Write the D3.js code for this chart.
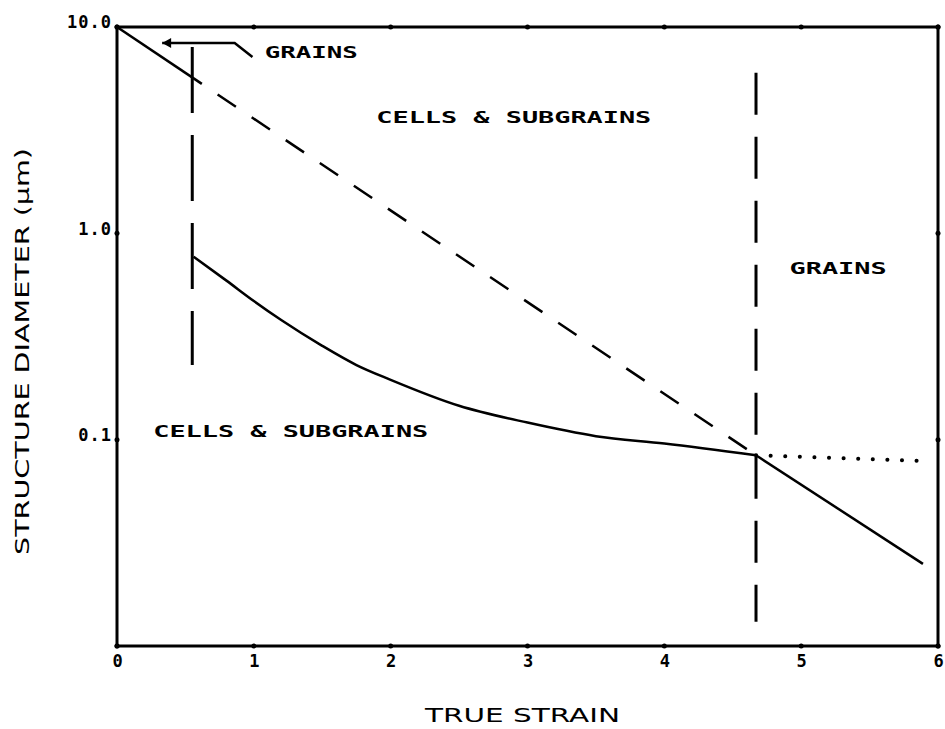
<!DOCTYPE html>
<html>
<head>
<meta charset="utf-8">
<script src="https://cdn.jsdelivr.net/npm/d3@7"></script>
<style>
  html, body { margin: 0; padding: 0; background: #fff; }
  svg { display: block; }
</style>
</head>
<body>
<svg id="chart" width="945" height="729"></svg>
<script>
// ---- data ----
const xTicks = [0, 1, 2, 3, 4, 5, 6];
const yTicks = [0.1, 1, 10];
const yTickLabels = ["0.1", "1.0", "10.0"];

// grain size line at low strain (solid)
const grainStrain = [0, 0.62];
const grainDiam = [10, 5.3];
// extrapolated grain-size line through cell region (dashed)
const extStrain = [0.62, 4.67];
const extDiam = [5.3, 0.084];
// cell / subgrain size curve (solid)
const cellStrain = [0.56, 0.8, 1.0, 1.2, 1.5, 1.75, 2.0, 2.5, 3.0, 3.5, 4.0, 4.67];
const cellDiam = [0.77, 0.59, 0.47, 0.38, 0.285, 0.23, 0.195, 0.146, 0.121, 0.104, 0.0957, 0.084];
// high-strain grain line (solid)
const highStrain = [4.67, 5.89];
const highDiam = [0.084, 0.025];
// cell plateau continuation (dotted)
const dotStrain = [4.67, 5.85];
const dotDiam = [0.084, 0.079];
// regime boundaries (dashed verticals)
const boundaryStrain = [0.55, 4.67];
const boundaryTop = [8.0, 6.0];
const boundaryBottom = [0.23, 0.0131];

// region labels
const labelText = ["GRAINS", "CELLS & SUBGRAINS", "CELLS & SUBGRAINS", "GRAINS"];
const labelStrain = [1.42, 2.90, 1.27, 5.27];
const labelDiam = [7.56, 3.66, 0.1096, 0.676];
const labelWidth = [93, 275, 275, 97];

// arrow annotation (strain, diameter)
const arrowStrain = [0.33, 0.86, 0.99];
const arrowDiam = [8.36, 8.36, 7.15];

// ---- layout ----
const svg = d3.select("#chart");
const x = d3.scaleLinear().domain([0, 6]).range([117, 938]);
const y = d3.scaleLog().domain([0.01, 10]).range([646, 27]);

const plotFont = "'DejaVu Sans Mono', 'Liberation Mono', monospace";
const titleFont = "'DejaVu Sans', 'Liberation Sans', sans-serif";

const line = d3.line().x(d => x(d[0])).y(d => y(d[1]));
const zip = (a, b) => a.map((v, i) => [v, b[i]]);

// frame
svg.append("rect")
  .attr("x", x(0)).attr("y", y(10))
  .attr("width", x(6) - x(0)).attr("height", y(0.01) - y(10))
  .attr("fill", "none").attr("stroke", "#000").attr("stroke-width", 3);

// tick dots on all four sides
const dotG = svg.append("g").attr("fill", "#000");
xTicks.forEach(t => {
  dotG.append("circle").attr("cx", x(t)).attr("cy", y(0.01)).attr("r", 2.5);
  dotG.append("circle").attr("cx", x(t)).attr("cy", y(10)).attr("r", 2.5);
});
[0.01, 0.1, 1, 10].forEach(t => {
  dotG.append("circle").attr("cx", x(0)).attr("cy", y(t)).attr("r", 2.5);
  dotG.append("circle").attr("cx", x(6)).attr("cy", y(t)).attr("r", 2.5);
});

// axes (labels only)
const xAxis = svg.append("g")
  .attr("transform", `translate(0,${y(0.01)})`)
  .call(d3.axisBottom(x).tickValues(xTicks).tickFormat(d3.format("d")).tickSize(0).tickPadding(9));
const yAxis = svg.append("g")
  .attr("transform", `translate(${x(0)},0)`)
  .call(d3.axisLeft(y).tickValues(yTicks).tickFormat((d, i) => yTickLabels[i]).tickSize(0).tickPadding(5));
[xAxis, yAxis].forEach(g => {
  g.select(".domain").remove();
  g.selectAll("text")
    .attr("font-family", plotFont).attr("font-weight", "bold")
    .attr("font-size", 17).attr("fill", "#000");
});
yAxis.selectAll("text").attr("dy", "0.05em").attr("letter-spacing", 1);

// curves
svg.append("path").datum(zip(grainStrain, grainDiam)).attr("d", line)
  .attr("fill", "none").attr("stroke", "#000").attr("stroke-width", 2.5);
svg.append("path").datum(zip(extStrain, extDiam)).attr("d", line)
  .attr("fill", "none").attr("stroke", "#000").attr("stroke-width", 2.5)
  .attr("stroke-dasharray", "22,19").attr("stroke-dashoffset", -19);
svg.append("path").datum(zip(cellStrain, cellDiam))
  .attr("d", d3.line().x(d => x(d[0])).y(d => y(d[1])).curve(d3.curveMonotoneX))
  .attr("fill", "none").attr("stroke", "#000").attr("stroke-width", 2.5);
svg.append("path").datum(zip(highStrain, highDiam)).attr("d", line)
  .attr("fill", "none").attr("stroke", "#000").attr("stroke-width", 2.5);
svg.append("path").datum(zip(dotStrain, dotDiam)).attr("d", line)
  .attr("fill", "none").attr("stroke", "#000").attr("stroke-width", 4)
  .attr("stroke-linecap", "round").attr("stroke-dasharray", "0.1,14.5");

// dashed vertical boundaries
const dashPatterns = ["66,22", "42,22"];
boundaryStrain.forEach((s, i) => {
  svg.append("line")
    .attr("x1", x(s)).attr("x2", x(s))
    .attr("y1", y(boundaryTop[i])).attr("y2", y(boundaryBottom[i]))
    .attr("stroke", "#000").attr("stroke-width", 3)
    .attr("stroke-dasharray", dashPatterns[i]);
});

// arrow annotation
svg.append("path").datum(zip(arrowStrain, arrowDiam)).attr("d", line)
  .attr("fill", "none").attr("stroke", "#000").attr("stroke-width", 2.5);
const tipX = x(arrowStrain[0]), tipY = y(arrowDiam[0]);
svg.append("path")
  .attr("d", `M${tipX},${tipY} l9,-5 l0,10 z`)
  .attr("fill", "#000");

// region labels
labelText.forEach((t, i) => {
  svg.append("text")
    .attr("x", x(labelStrain[i]) - labelWidth[i] / 2)
    .attr("y", y(labelDiam[i]))
    .attr("dy", "0.36em")
    .attr("textLength", labelWidth[i]).attr("lengthAdjust", "spacingAndGlyphs")
    .attr("font-family", plotFont).attr("font-weight", "bold")
    .attr("font-size", 16).attr("fill", "#000")
    .text(t);
});

// axis titles
svg.append("text")
  .attr("x", 425).attr("y", 722)
  .attr("textLength", 195).attr("lengthAdjust", "spacingAndGlyphs")
  .attr("font-family", titleFont).attr("font-size", 20).attr("fill", "#000")
  .text("TRUE STRAIN");
svg.append("text")
  .attr("transform", "translate(29,555) rotate(-90)")
  .attr("x", 0).attr("y", 0)
  .attr("textLength", 407).attr("lengthAdjust", "spacingAndGlyphs")
  .attr("font-family", titleFont).attr("font-size", 20).attr("fill", "#000")
  .text("STRUCTURE DIAMETER (\u03BCm)");
</script>
</body>
</html>
